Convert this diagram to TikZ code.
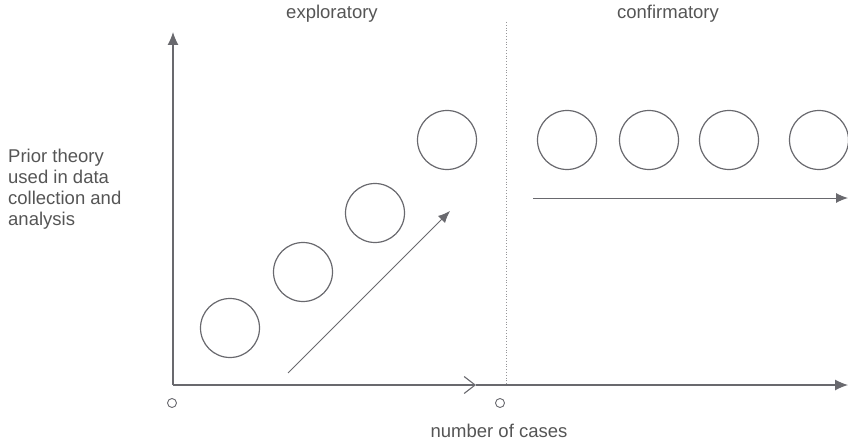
\documentclass[tikz,border=0pt]{standalone}
\usepackage{fontspec}
\setmainfont{Liberation Sans}
\usetikzlibrary{arrows.meta}
\definecolor{ln}{RGB}{105,105,110}
\definecolor{tx}{RGB}{85,85,85}
\begin{document}
\begin{tikzpicture}[x=1pt,y=-1pt,
  lbl/.style={text=tx,font=\fontsize{18.5}{21}\selectfont,inner sep=0pt},
  casec/.style={circle,draw=ln,line width=1.2pt,minimum size=59pt,inner sep=0pt},
  zero/.style={circle,draw=ln,line width=0.9pt,minimum size=9pt,inner sep=0pt},
  axis/.style={draw=ln,line width=1.1pt},
  tipf/.style={-{Latex[length=13pt,width=11pt]}},
  tips/.style={-{Latex[length=12pt,width=10pt]}}]
\useasboundingbox (0,0) rectangle (848,441);
% axes
\coordinate (O) at (173,385);
\coordinate (Ytop) at (173,32);
\coordinate (Xmid) at (476,385);
\coordinate (Xend) at (848,385);
\draw[axis,tipf] (O) -- (Ytop);
\draw[axis,-{Straight Barb[length=11pt,width=17pt,line width=1.1pt]}] (O) -- (Xmid);
\draw[axis,tipf] (Xmid) -- (Xend);
% divider
\coordinate (Dtop) at (506,22);
\coordinate (Dbot) at (506,385);
\draw[draw=ln!70,line width=0.8pt,dotted] (Dtop) -- (Dbot);
% labels
\node[lbl] (expl) at (332,14) {exploratory};
\node[lbl] (conf) at (668,14) {confirmatory};
\node[lbl] (ncases) at (499,431) {number of cases};
\node[lbl,anchor=north west,align=left] (prior) at (8,149) {Prior theory\\used in data\\collection and\\analysis};
% zero markers
\node[zero] (z1) at (172,403) {};
\node[zero] (z2) at (500,403) {};
% exploratory cases
\node[casec] (c1) at (230,328) {};
\node[casec] (c2) at (303,272) {};
\node[casec] (c3) at (375,213) {};
\node[casec] (c4) at (447,140) {};
% confirmatory cases
\node[casec] (d1) at (567,140) {};
\node[casec] (d2) at (649,140) {};
\node[casec] (d3) at (729,140) {};
\node[casec] (d4) at (819,140) {};
% trend arrows
\coordinate (a1) at (288,373);
\coordinate (a2) at (450,211);
\draw[axis,line width=1pt,tips] (a1) -- (a2);
\coordinate (b1) at (533,198);
\coordinate (b2) at (848,198);
\draw[axis,line width=1pt,tips] (b1) -- (b2);
\end{tikzpicture}
\end{document}
